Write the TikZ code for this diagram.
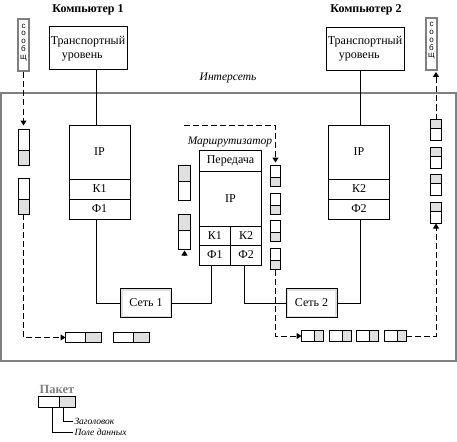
\documentclass[tikz,border=0pt]{standalone}
\usepackage{fontspec}
\setmainfont{Liberation Serif}
\newfontfamily\msgfont{Liberation Sans}
\usetikzlibrary{positioning, arrows.meta}
\definecolor{pktgray}{gray}{0.88}
\definecolor{framegray}{gray}{0.5}

\begin{document}
\begin{tikzpicture}[x=1pt, y=-1pt, line width=1pt,
    box/.style={draw, outer sep=0pt, inner sep=0pt, font=\fontsize{12}{14}\selectfont},
    pkt/.style={draw, outer sep=0pt, inner sep=0pt, fill=white},
    gN/.style={path picture={
        \fill[pktgray] (path picture bounding box.north west) rectangle ([yshift=-#1]path picture bounding box.north east);
        \draw ([yshift=-#1]path picture bounding box.north west) -- ([yshift=-#1]path picture bounding box.north east);}},
    gS/.style={path picture={
        \fill[pktgray] (path picture bounding box.south west) rectangle ([yshift=#1]path picture bounding box.south east);
        \draw ([yshift=#1]path picture bounding box.south west) -- ([yshift=#1]path picture bounding box.south east);}},
    gE/.style={path picture={
        \fill[pktgray] (path picture bounding box.north east) rectangle ([xshift=-#1]path picture bounding box.south east);
        \draw ([xshift=-#1]path picture bounding box.north east) -- ([xshift=-#1]path picture bounding box.south east);}},
    net/.style={box, minimum width=51pt, minimum height=29pt, path picture={
        \draw[pktgray, line width=4pt] (path picture bounding box.south west) rectangle (path picture bounding box.north east);}},
    msg/.style={draw=framegray, line width=2pt, minimum width=11pt, minimum height=52pt, inner sep=0pt,
        align=center, font=\msgfont\fontsize{8}{7.8}\selectfont},
    hdr/.style={font=\bfseries\fontsize{12}{14}\selectfont},
    lbl/.style={font=\itshape\fontsize{11.5}{13}\selectfont},
    lgtitle/.style={text=framegray, font=\bfseries\fontsize{12.5}{14}\selectfont},
    lgtxt/.style={anchor=west, inner sep=1pt, font=\itshape\fontsize{9.5}{11}\selectfont},
    dsh/.style={dash pattern=on 6pt off 3pt},
    arr/.style={-{Triangle[length=5pt,width=6pt]}}
]
\useasboundingbox (0,0) rectangle (457,441);

% hosts
\node[hdr] (comp1) at (88,10) {Компьютер 1};
\node[hdr] (comp2) at (366,10) {Компьютер 2};
\node[box, minimum width=78pt, minimum height=43pt, align=left] (trans1) at (88,48.5) {Транспортный\\\hspace*{11pt}уровень};
\node[box, minimum width=78pt, minimum height=43pt, align=left] (trans2) at (365,49) {Транспортный\\\hspace*{11pt}уровень};

% internet
\draw[framegray, line width=2pt] (1,93) rectangle (456,361);
\node[lbl] (inet) at (228,78) {Интерсеть};

\foreach \n/\x in {1/99.5, 2/359}
{
    \node[box, minimum width=61pt, minimum height=54pt] (ip\n) at (\x,152) {IP};
    \node[box, minimum width=61pt, minimum height=20pt, below=0pt of ip\n] (k\n) {К\n};
    \node[box, minimum width=61pt, minimum height=20pt, below=0pt of k\n] (f\n) {Ф\n};
};

% router
\node[lbl] (rtName) at (230,142) {Маршрутизатор};
\node[box, minimum width=62.5pt, minimum height=21pt] (rtPer) at (230.5,160.5) {Передача};
\node[box, minimum width=62.5pt, minimum height=55pt, below=0pt of rtPer] (rtIP) {IP};
\node[box, minimum width=31.25pt, minimum height=19pt, below right=0pt of rtIP.south west] (rtK1) {К1};
\node[box, minimum width=31.25pt, minimum height=19pt, right=0pt of rtK1] (rtK2) {К2};
\node[box, minimum width=31.25pt, minimum height=20pt, below=0pt of rtK1] (rtF1) {Ф1};
\node[box, minimum width=31.25pt, minimum height=20pt, below=0pt of rtK2] (rtF2) {Ф2};

\node[net] (net1) at (146,303) {Сеть 1};
\node[net] (net2) at (311.5,303) {Сеть 2};

\draw ([xshift=-3.5pt]ip1.north) -- ([xshift=-3.5pt]ip1.north |- trans1.south);
\draw ([xshift=1.5pt]ip2.north) -- ([xshift=1.5pt]ip2.north |- trans2.south);
\draw ([xshift=-3.5pt]f1.south) |- (net1.west);
\draw (net1.east) -| ([xshift=-3pt]rtF1.south);
\draw ([xshift=-1.5pt]rtF2.south) |- (net2.west);
\draw (net2.east) -| ([xshift=1.5pt]f2.south);

% packets
\foreach \n/\y in {pL1/147.5, pL2/196}
    \node[pkt, minimum width=11pt, minimum height=36pt, gS=15pt] (\n) at (23.5,\y) {};
\foreach \n/\y in {pRl1/183, pRl2/231.5}
    \node[pkt, minimum width=12pt, minimum height=35pt, gN=16pt] (\n) at (184.5,\y) {};
\foreach \n/\y in {pRr1/176, pRr2/204, pRr3/231, pRr4/259}
    \node[pkt, minimum width=10.5pt, minimum height=21pt, gS=9pt] (\n) at (275.5,\y) {};
\foreach \n/\y in {pFR1/130, pFR2/158, pFR3/185, pFR4/213}
    \node[pkt, minimum width=11pt, minimum height=21pt, gN=9pt] (\n) at (436,\y) {};
\foreach \n/\x in {pBL1/83.5, pBL2/131.5}
    \node[pkt, minimum width=36pt, minimum height=10.5pt, gE=16pt] (\n) at (\x,337.5) {};
\foreach \n/\x in {pBR1/312.5, pBR2/340, pBR3/367.5, pBR4/395}
    \node[pkt, minimum width=22pt, minimum height=11pt, gE=9pt] (\n) at (\x,336) {};

% messages
\node[msg] (msgL) at (23.5,45.5) {с\\о\\о\\б\\щ\\~};
\node[msg] (msgR) at (431.5,44) {с\\о\\о\\б\\щ\\~};

\coordinate (rtIn) at (184,125);

\draw[dsh, arr, shorten >=4pt] (msgL.south) -- (msgL.south |- pL1.north);
\draw[dsh, arr] (pL2.south) |- (pBL1.west);
\draw[dsh, arr, shorten >=3pt] (rtIn) -| (pRr1.north);
\draw[arr] ([yshift=-7pt]pRl2.south) -- ([yshift=-1.5pt]pRl2.south);
\draw[dsh, arr] (pRr4.south) |- (pBR1.west);
\draw[dsh, arr] (pBR4.east) -| (pFR4.south);
\draw[dsh, arr, shorten >=1pt] (pFR1.north) -- (pFR1.north |- msgR.south);

% legend
\node[lgtitle] (lgName) at (57,389) {Пакет};
\node[pkt, minimum width=37pt, minimum height=11pt, gE=16pt] (lgPkt) at (57,402) {};
\node[lgtxt] (lgHead) at (73,421) {Заголовок};
\node[lgtxt] (lgData) at (73,432) {Поле данных};
\draw ([xshift=6pt]lgPkt.south) |- (lgHead.west);
\draw ([xshift=-5pt]lgPkt.south) |- (lgData.west);

\end{tikzpicture}
\end{document}
